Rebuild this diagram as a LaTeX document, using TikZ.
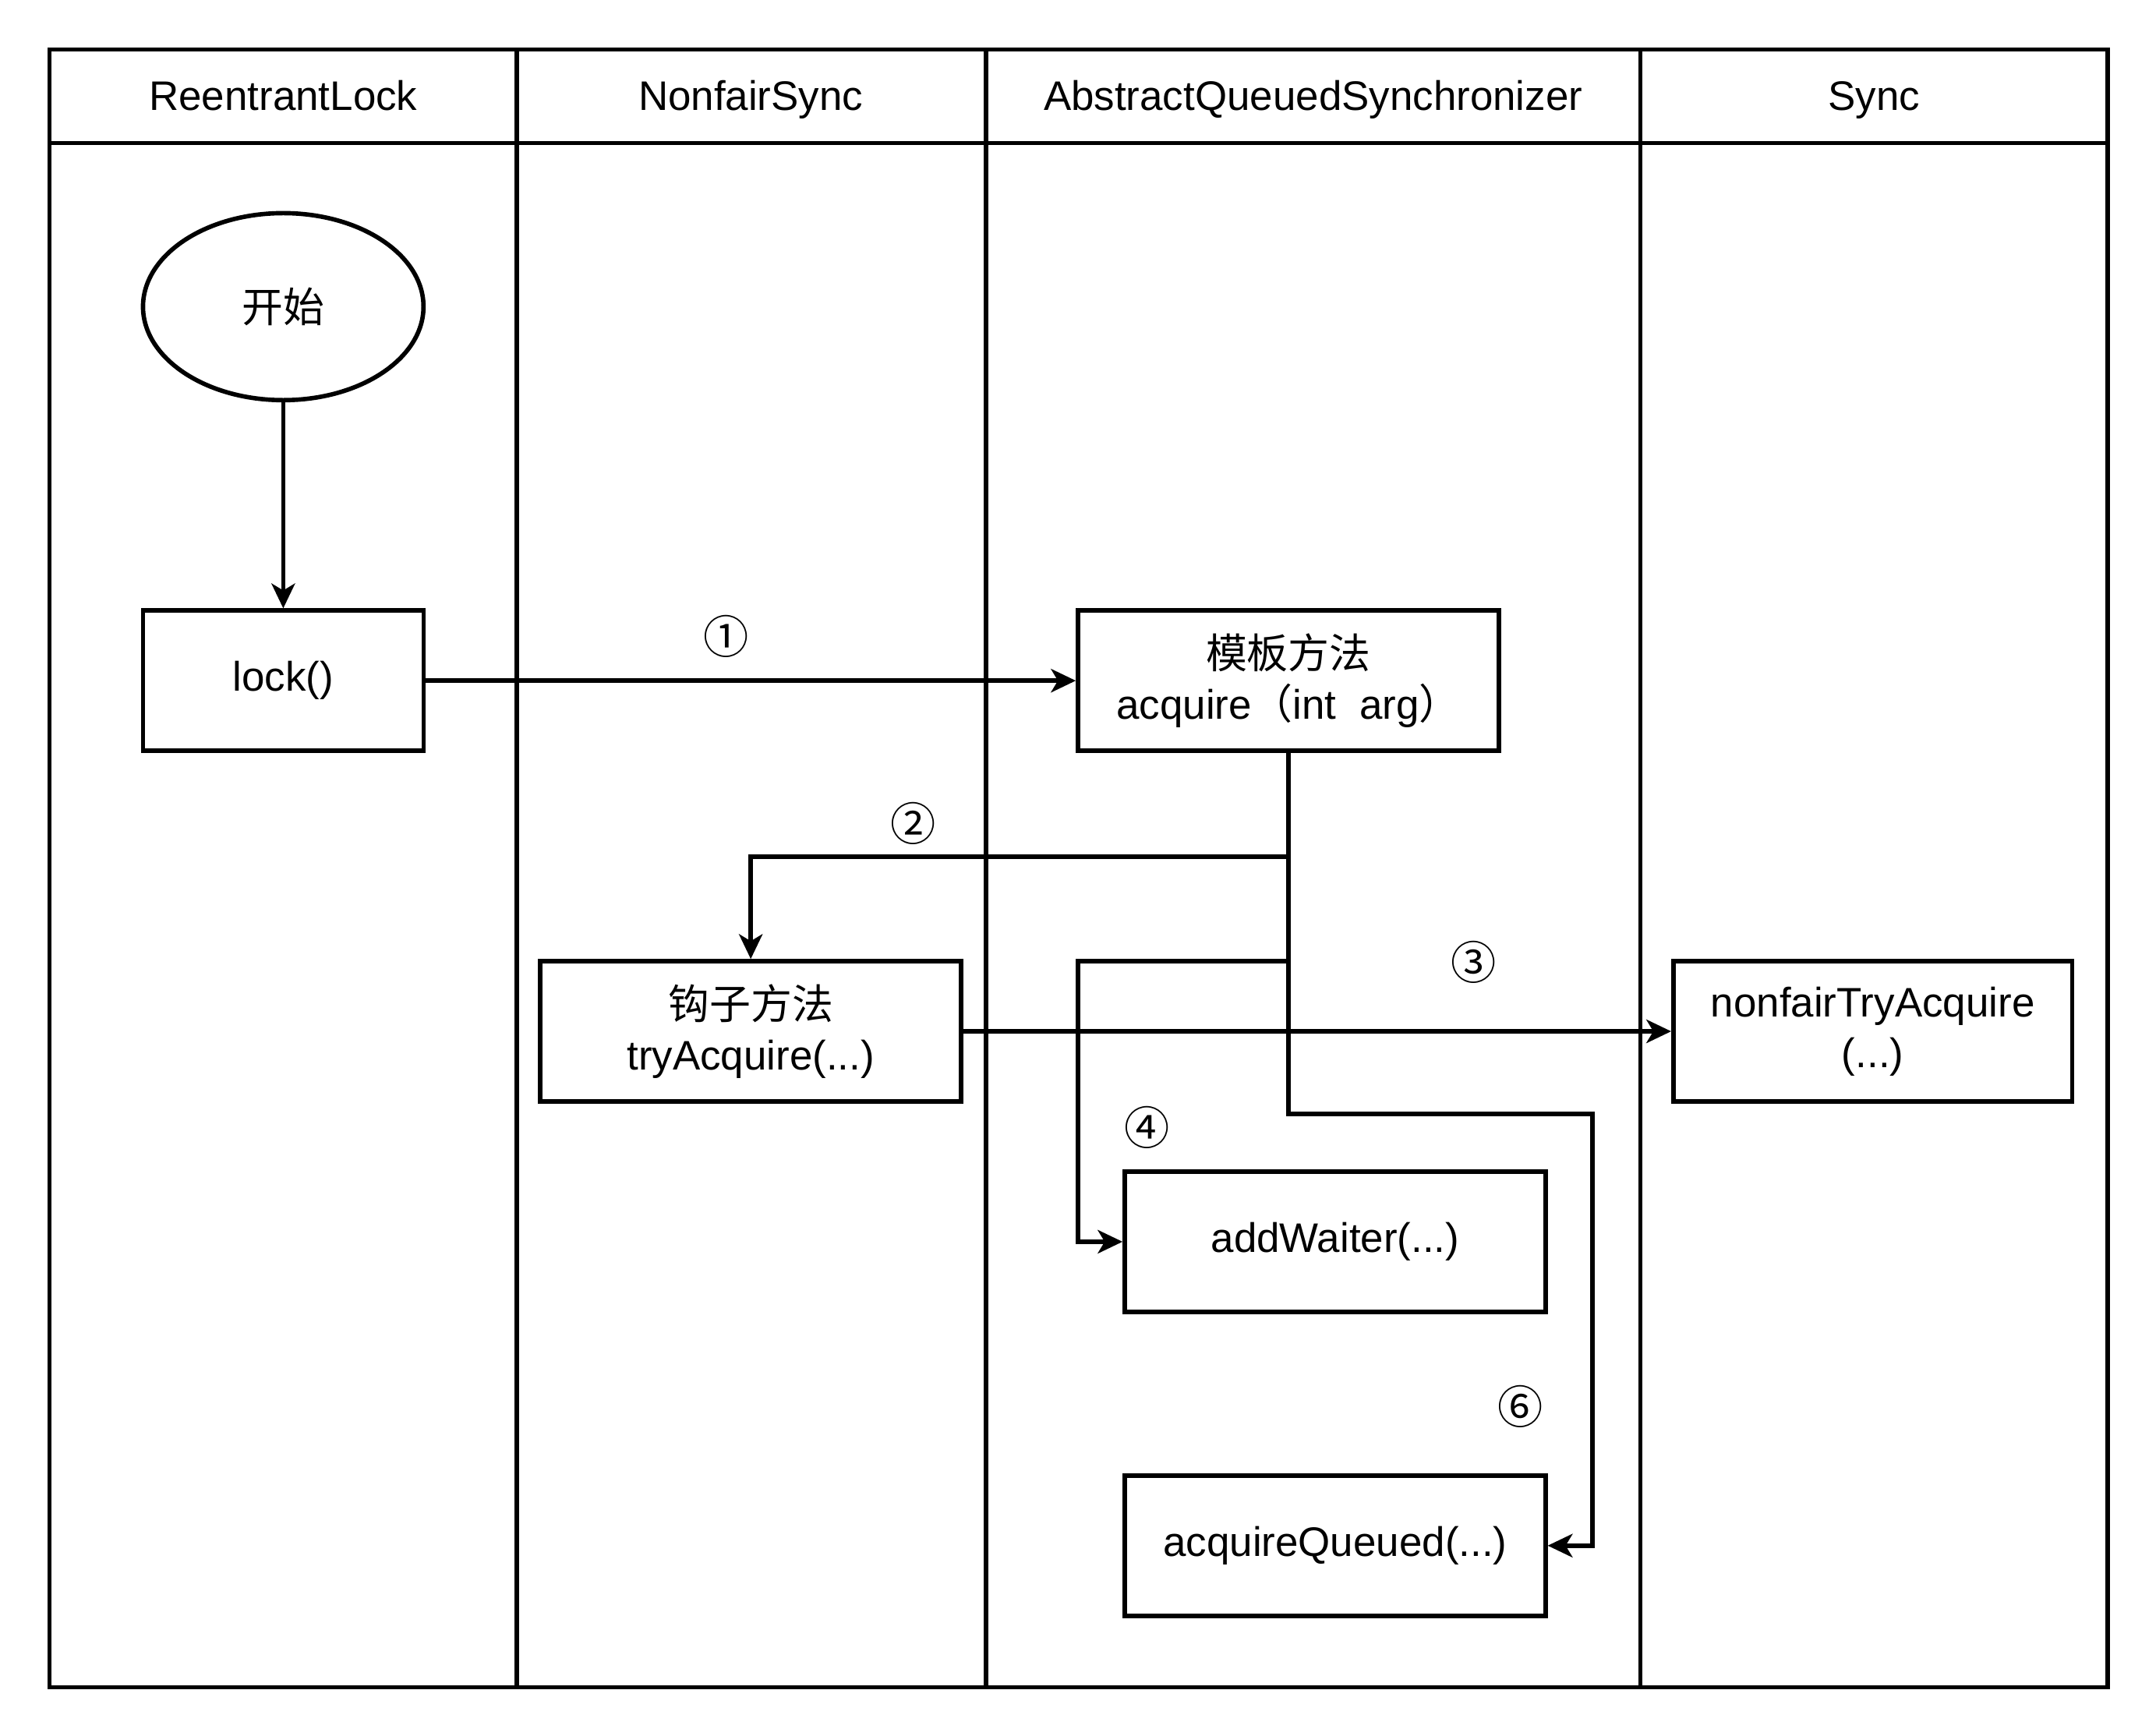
\documentclass[tikz,border=0pt]{standalone}
\usepackage{fontspec}
\setmainfont{Liberation Sans}
\newfontfamily\cjk{Noto Sans CJK SC}
\usetikzlibrary{arrows.meta,shapes.geometric}
\begin{document}
\begin{tikzpicture}[x=0.5pt,y=-0.5pt,line width=1.6pt,
  font=\fontsize{15}{18.5}\selectfont,
  box/.style={draw,rectangle,minimum height=51pt,inner sep=0pt,align=center},
  arr/.style={-{Stealth[length=9pt,width=8.5pt,inset=2.5pt]}},
  lbl/.style={font=\cjk\fontsize{16.5}{18}\selectfont,inner sep=0pt},
  hdr/.style={inner sep=0pt,anchor=base}]
\useasboundingbox (0,0) rectangle (1568,1262);
% swimlanes
\draw (36,36) rectangle (1533,1227);
\draw (36,104) -- (1533,104);
\draw (376,36) -- (376,1227);
\draw (717,36) -- (717,1227);
\draw (1193,36) -- (1193,1227);
\node[hdr] (h1) at (206,80) {ReentrantLock};
\node[hdr] (h2) at (546,80) {NonfairSync};
\node[hdr] (h3) at (955,80) {AbstractQueuedSynchronizer};
\node[hdr] (h4) at (1363,80) {Sync};
% nodes
\node[draw,ellipse,minimum width=102pt,minimum height=68pt,inner sep=0pt] (start) at (206,223) {\cjk 开始};
\node[box,minimum width=102pt] (lock) at (206,495) {\raisebox{-1.5pt}{lock()}};
\node[box,minimum width=153pt] (tmpl) at (937,495) {{\cjk 模板方法}\\acquire{\cjk （}int\ \ arg{\cjk ）}};
\node[box,minimum width=153pt] (hook) at (546,750) {{\cjk 钩子方法}\\tryAcquire(...)};
\node[box,minimum width=145pt] (nf) at (1362,750) {nonfairTryAcquire\\(...)};
\node[box,minimum width=153pt] (aw) at (971,903) {\raisebox{-1.5pt}{addWaiter(...)}};
\node[box,minimum width=153pt] (aq) at (971,1124) {\raisebox{-1.5pt}{acquireQueued(...)}};
% junction coordinates
\coordinate (j2) at (937,623);
\coordinate (j4) at (937,699);
\coordinate (k4a) at (784,699);
\coordinate (k4b) at (784,903);
\coordinate (j6) at (937,810);
\coordinate (k6a) at (1158,810);
\coordinate (k6b) at (1158,1124);
% connectors
\draw[arr] (start) -- (lock);
\draw[arr] (lock) -- (tmpl);
\draw[arr] (tmpl.south) -- (j2) -| (hook.north);
\draw[arr] (hook) -- (nf);
\draw[arr] (tmpl.south) -- (j4) -- (k4a) -- (k4b) -- (aw.west);
\draw[arr] (tmpl.south) -- (j6) -- (k6a) -- (k6b) -- (aq.east);
% labels
\node[lbl] (l1) at (528,463) {①};
\node[lbl] (l2) at (664,599) {②};
\node[lbl] (l3) at (1072,700) {③};
\node[lbl] (l4) at (834,820) {④};
\node[lbl] (l6) at (1106,1023) {⑥};
\end{tikzpicture}
\end{document}
